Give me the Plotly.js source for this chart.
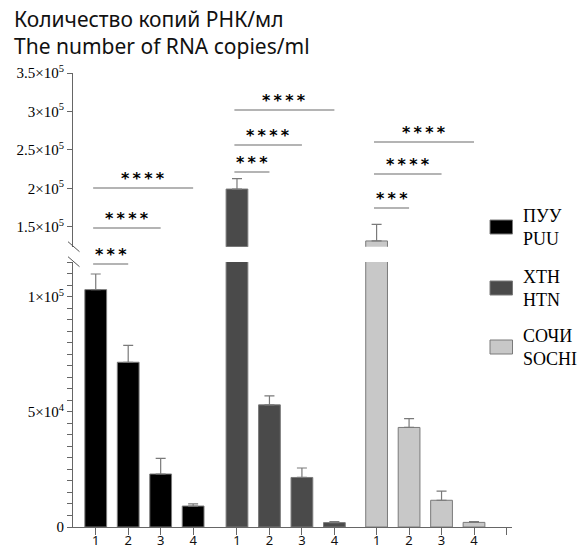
<!DOCTYPE html>
<html>
<head>
<meta charset="utf-8">
<script src="https://cdn.plot.ly/plotly-3.0.1.min.js"></script>
<style>html,body{margin:0;padding:0;background:#fff;}#chart{width:580px;height:549px;}</style>
</head>
<body>
<div id="chart"></div>
<script>
// ---- data ----
const titleLines = ['Количество копий РНК/мл', 'The number of RNA copies/ml'];
const barLabels = ['1', '2', '3', '4'];
const seriesNames = ['ПУУ<br>PUU', 'ХТН<br>HTN', 'СОЧИ<br>SOCHI'];
const puuValues = [103000, 71500, 23000, 9100];
const puuErrors = [6800, 7300, 6800, 900];
const htnValues = [199000, 53000, 21500, 1900];
const htnErrors = [13500, 3900, 4100, 400];
const sochiValues = [131500, 43200, 11600, 2000];
const sochiErrors = [21500, 3800, 4000, 300];
const comparisons = [[1, 2, '***'], [1, 3, '****'], [1, 4, '****']];
const lowerTickVals = [0, 50000, 100000];
const lowerTickText = ['0', '5×10<sup>4</sup>', '1×10<sup>5</sup>'];
const upperTickVals = [150000, 200000, 250000, 300000, 350000];
const upperTickText = ['1.5×10<sup>5</sup>', '2×10<sup>5</sup>', '2.5×10<sup>5</sup>', '3×10<sup>5</sup>', '3.5×10<sup>5</sup>'];

// ---- styling / layout constants ----
const colors = ['#000000', '#4a4a4a', '#c8c8c8'];
const W = 580, H = 549;
const M = {l: 73, r: 68, t: 73, b: 22};
const groupStart = [0, 4.35, 8.65];
const bracketPx = [[264, 228, 188], [172, 145, 110], [208, 174, 142]];
const px2x = px => (px - M.l) / (W - M.l - M.r);
const py2y = py => (H - M.b - py) / (H - M.t - M.b);

const seriesVals = [puuValues, htnValues, sochiValues];
const seriesErrs = [puuErrors, htnErrors, sochiErrors];

const traces = [];
const tickVals = [], tickText = [];
seriesVals.forEach((vals, g) => {
  const xs = vals.map((v, i) => groupStart[g] + i);
  xs.forEach((x, i) => { tickVals.push(x); tickText.push(barLabels[i]); });
  ['y', 'y2'].forEach(ax => {
    traces.push({
      type: 'bar', x: xs, y: vals, yaxis: ax, xaxis: 'x',
      width: 0.67, showlegend: false, hoverinfo: 'skip',
      marker: {color: colors[g], line: {color: '#7a7a7a', width: 1}},
      error_y: {type: 'data', symmetric: false, array: seriesErrs[g],
        arrayminus: vals.map(() => 0), color: '#7a7a7a', thickness: 1.2, width: 5}
    });
  });
});
tickVals.push(groupStart[2] + 4); tickText.push(' ');

const shapes = [];
const annotations = [];
// title (two lines)
annotations.push({xref: 'paper', yref: 'paper', x: px2x(12), y: py2y(33),
  xanchor: 'left', yanchor: 'middle', align: 'left', showarrow: false, text: titleLines.join('<br>'),
  font: {family: 'Noto Sans', size: 21, color: '#111'}});
// significance brackets
seriesVals.forEach((vals, g) => {
  comparisons.forEach((c, k) => {
    const x0 = groupStart[g] + c[0] - 1 - 0.08;
    const x1 = groupStart[g] + c[1] - 1;
    const yy = py2y(bracketPx[g][k]);
    shapes.push({type: 'line', xref: 'x', yref: 'paper', x0: x0, x1: x1, y0: yy, y1: yy,
      line: {color: '#6a6a6a', width: 1.2}});
    annotations.push({xref: 'x', yref: 'paper', x: (x0 + x1) / 2, y: yy, yanchor: 'bottom',
      yshift: -2, showarrow: false, text: '<b>' + c[2].split('').join('\u2009') + '</b>',
      font: {family: 'DejaVu Sans', size: 16, color: '#000'}});
  });
});
// axis break marks
[[241.7, 251.7], [256.7, 266.7]].forEach(p => {
  shapes.push({type: 'line', xref: 'paper', yref: 'paper', x0: px2x(68), x1: px2x(79.5),
    y0: py2y(p[0]), y1: py2y(p[1]), line: {color: '#555', width: 1}});
});
// legend
const legendY = [227, 288, 347];
seriesNames.forEach((n, g) => {
  shapes.push({type: 'rect', xref: 'paper', yref: 'paper', x0: px2x(490), x1: px2x(512.5),
    y0: py2y(legendY[g] - 7), y1: py2y(legendY[g] + 7),
    fillcolor: colors[g], line: {color: '#7a7a7a', width: 1}});
  annotations.push({xref: 'paper', yref: 'paper', x: px2x(521), y: py2y(legendY[g]),
    xanchor: 'left', yanchor: 'middle', align: 'left', showarrow: false, text: n,
    font: {family: 'Liberation Serif', size: 18, color: '#000'}});
});

const axisCommon = {showgrid: false, zeroline: false, showline: true, linecolor: '#666', linewidth: 1,
  ticks: 'outside', ticklen: 5, tickcolor: '#666', tickwidth: 1,
  tickfont: {family: 'Liberation Serif', size: 15, color: '#000'}};

const layout = {
  width: W, height: H, margin: M, paper_bgcolor: '#fff', plot_bgcolor: 'rgba(0,0,0,0)',
  barmode: 'overlay', showlegend: false,
  xaxis: {range: [-0.7, 12.82], showgrid: false, zeroline: false, showline: true, linecolor: '#666',
    ticks: 'outside', ticklen: 7, tickcolor: '#666', tickmode: 'array', tickvals: tickVals, ticktext: tickText,
    ticklabelstandoff: -6,
    tickfont: {family: 'Noto Sans', size: 13, color: '#111'}, anchor: 'y'},
  yaxis: Object.assign({}, axisCommon, {domain: [0, py2y(262)], range: [0, 115000],
    tickmode: 'array', tickvals: lowerTickVals, ticktext: lowerTickText,
    minor: {tickmode: 'linear', tick0: 0, dtick: 5000, ticks: 'outside', ticklen: 5, tickcolor: '#666'}}),
  yaxis2: Object.assign({}, axisCommon, {domain: [py2y(246.7), 1], range: [124000, 350000],
    tickmode: 'array', tickvals: upperTickVals, ticktext: upperTickText, anchor: 'x'}),
  shapes: shapes, annotations: annotations
};

Plotly.newPlot('chart', traces, layout, {staticPlot: true, displayModeBar: false});
</script>
</body>
</html>
